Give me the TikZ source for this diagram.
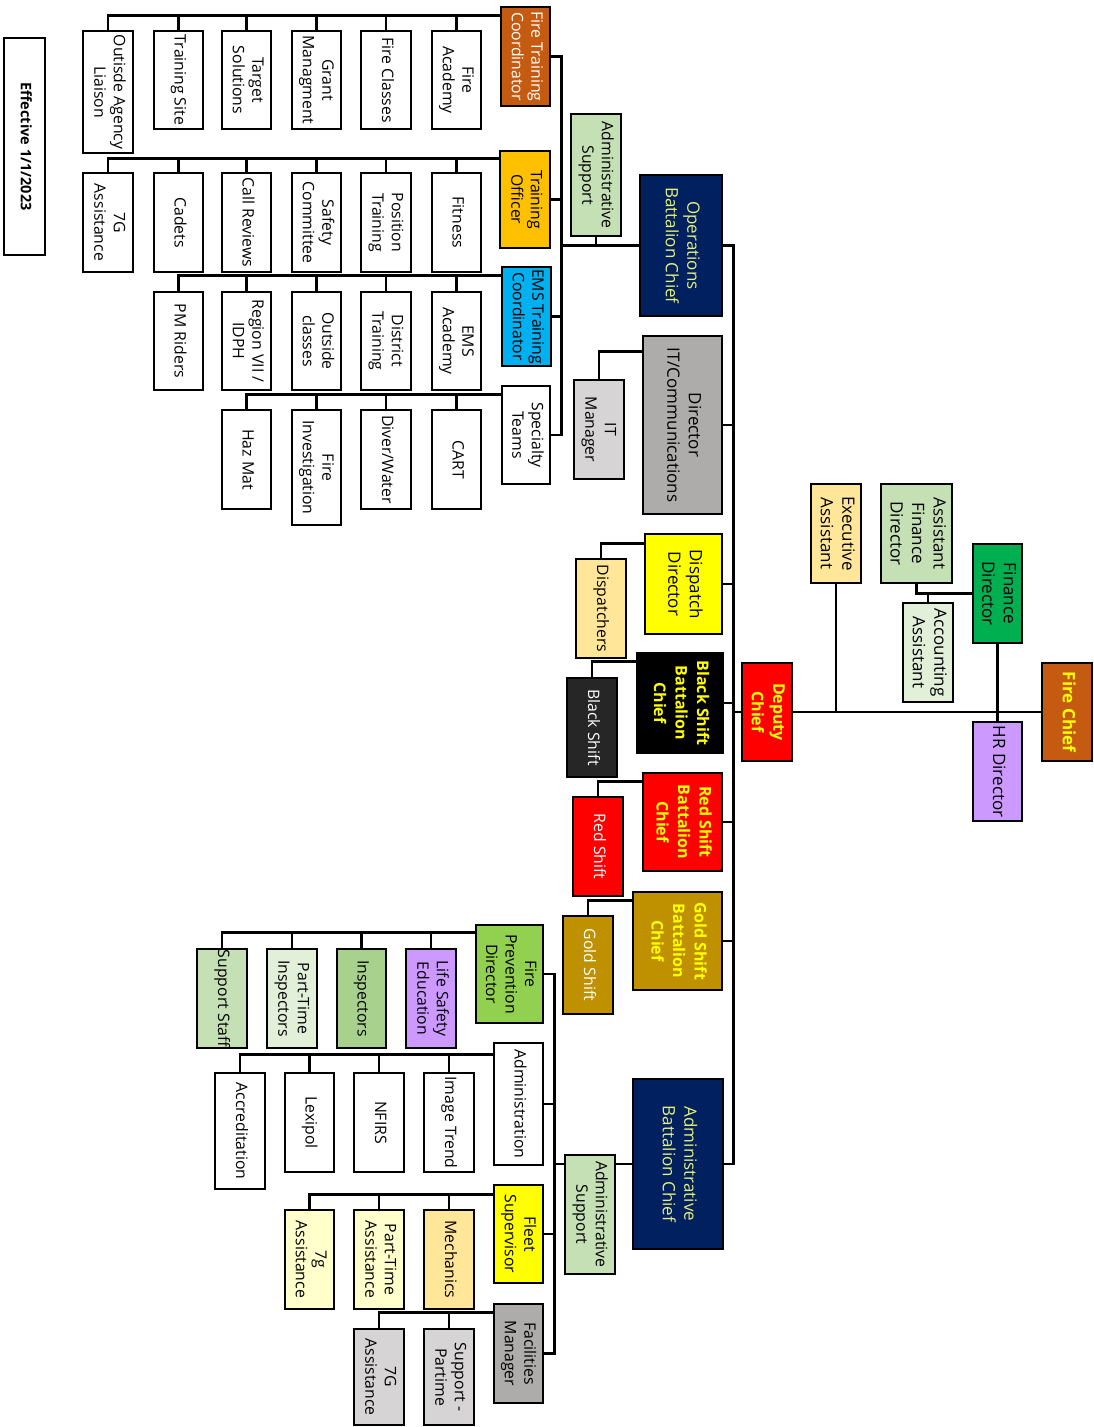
\documentclass[tikz,border=0pt]{standalone}
\usepackage{fontspec}
\setmainfont{Open Sans}
\usepackage{graphicx}
\usetikzlibrary{calc}
\pgfdeclarelayer{bg}
\pgfsetlayers{bg,main}
\definecolor{cBrown}{HTML}{C55A11}
\definecolor{cAmber}{HTML}{FFC000}
\definecolor{cBlue}{HTML}{00B0F0}
\definecolor{cLtGreen}{HTML}{C5E0B4}
\definecolor{cNavy}{HTML}{002060}
\definecolor{cPaleY}{HTML}{E6F07A}
\definecolor{cGray}{HTML}{AEABAB}
\definecolor{cLtGray}{HTML}{D6D4D4}
\definecolor{cCream}{HTML}{FFE699}
\definecolor{cDark}{HTML}{262626}
\definecolor{cGold}{HTML}{BF9000}
\definecolor{cPaleGreen}{HTML}{E2F0D9}
\definecolor{cGreen}{HTML}{00B050}
\definecolor{cLav}{HTML}{CC99FF}
\definecolor{cFPGreen}{HTML}{92D050}
\definecolor{cMidGreen}{HTML}{A9D18E}
\definecolor{cLtYellow}{HTML}{FFFFCC}
\definecolor{cYel}{HTML}{FFFF00}
\newcommand{\rt}[1]{\rotatebox{-90}{\begin{tabular}{@{}c@{}}#1\end{tabular}}}
\newcommand{\bx}[7]{\node[#6, minimum width={#4-#2}, minimum height={#5-#3}] (#1) at ({(#2+#4)/2},{(#3+#5)/2}) {\rt{#7}};}
\tikzset{
  box/.style={draw=black, line width=2.8pt, inner sep=0pt, fill=white, font=\fontsize{15.8}{19.5}\selectfont},
  big/.style={box, font=\fontsize{17}{21.5}\selectfont},
  boldbox/.style={box, font=\fontsize{16}{21.5}\selectfont\bfseries},
  conn/.style={draw=black, line width=2.4pt}
}
\begin{document}
\begin{tikzpicture}[x=1pt,y=-1pt]
\useasboundingbox (0,0) rectangle (1094,1427);
% header
\bx{eff}{4}{38}{45}{255}{box,font=\fontsize{14.5}{18}\selectfont\bfseries}{Effective 1/1/2023}
% row 1
\bx{oal}{83}{31}{133}{153}{box}{Outisde Agency\\Liaison}
\bx{tsite}{154}{31}{203}{129}{box}{Training Site}
\bx{tsol}{222}{31}{271}{129}{box}{Target\\Solutions}
\bx{grant}{292}{31}{341}{129}{box}{Grant\\Managment}
\bx{fcls}{361}{31}{411}{129}{box}{Fire Classes}
\bx{facad}{432}{31}{481}{129}{box}{Fire\\Academy}
\bx{ftc}{501}{7}{550}{106}{box,fill=cBrown,text=white}{Fire Training\\Coordinator}
% row 2
\bx{sevg}{83}{173}{133}{272}{box}{7G\\Assistance}
\bx{cadets}{154}{173}{203}{272}{box}{Cadets}
\bx{callr}{222}{173}{271}{272}{box}{Call Reviews}
\bx{safety}{292}{173}{341}{272}{box}{Safety\\Committee}
\bx{postr}{361}{173}{411}{272}{box}{Position\\Training}
\bx{fitness}{432}{173}{481}{272}{box}{Fitness}
\bx{to}{500}{151}{550}{248}{box,fill=cAmber}{Training\\Officer}
% row 3
\bx{pmr}{154}{292}{203}{390}{box}{PM Riders}
\bx{region}{222}{292}{271}{390}{box}{Region VII /\\IDPH}
\bx{outcls}{292}{292}{341}{390}{box}{Outside\\classes}
\bx{distr}{361}{292}{411}{390}{box}{District\\Training}
\bx{emsac}{432}{292}{481}{390}{box}{EMS\\Academy}
\bx{ems}{502}{267}{551}{366}{box,fill=cBlue}{EMS Training\\Coordinator}
% row 4
\bx{hazmat}{222}{410}{271}{509}{box}{Haz Mat}
\bx{fireinv}{292}{410}{341}{525}{box}{Fire\\Investigation}
\bx{diver}{361}{410}{411}{509}{box}{Diver/Water}
\bx{cart}{432}{410}{481}{509}{box}{CART}
\bx{spt}{502}{386}{550}{484}{box}{Specialty\\Teams}
% operations column
\bx{ast}{571}{114}{621}{236}{box,fill=cLtGreen}{Administrative\\Support}
\bx{ops}{640}{175}{722}{316}{big,fill=cNavy,text=cPaleY}{Operations\\Battalion Chief}
\bx{dirit}{643}{336}{722}{514}{big,fill=cGray}{Director\\IT/Communications}
\bx{itm}{574}{380}{624}{479}{box,fill=cLtGray}{IT\\Manager}
\bx{disp}{645}{534}{722}{634}{big,fill=cYel}{Dispatch\\Director}
\bx{dispr}{576}{559}{626}{658}{box,fill=cCream}{Dispatchers}
\bx{bsbc}{637}{653}{723}{753}{boldbox,fill=black,text=cYel}{Black Shift\\Battalion\\Chief}
\bx{bs}{567}{678}{617}{777}{box,fill=cDark,text=white}{Black Shift}
\bx{dep}{742}{663}{792}{761}{boldbox,fill=red,text=cYel}{Deputy\\Chief}
\bx{rsbc}{643}{773}{722}{871}{boldbox,fill=red,text=cYel}{Red Shift\\Battalion\\Chief}
\bx{rs}{573}{797}{623}{896}{box,fill=red,text=white}{Red Shift}
\bx{gsbc}{633}{892}{722}{990}{boldbox,fill=cGold,text=cYel}{Gold Shift\\Battalion\\Chief}
\bx{gs}{563}{916}{613}{1014}{box,fill=cGold,text=white}{Gold Shift}
\bx{abc}{633}{1079}{723}{1249}{big,fill=cNavy,text=cPaleY}{Administrative\\Battalion Chief}
% right side
\bx{ea}{811}{484}{861}{583}{big,fill=cCream}{Executive\\Assistant}
\bx{afd}{881}{484}{952}{583}{big,fill=cLtGreen}{Assistant\\Finance\\Director}
\bx{acc}{903}{603}{953}{702}{big,fill=cPaleGreen}{Accounting\\Assistant}
\bx{fd}{973}{544}{1022}{643}{big,fill=cGreen}{Finance\\Director}
\bx{hr}{973}{722}{1022}{821}{big,fill=cLav}{HR Director}
\bx{fc}{1042}{663}{1092}{761}{boldbox,font=\fontsize{17}{21}\selectfont\bfseries,fill=cBrown,text=cYel}{Fire Chief}
% lower
\bx{fpd}{476}{925}{543}{1023}{box,fill=cFPGreen}{Fire\\Prevention\\Director}
\bx{sstaff}{197}{949}{247}{1048}{box,fill=cLtGreen}{Support Staff}
\bx{pti}{267}{949}{317}{1048}{box,fill=cPaleGreen}{Part-Time\\Inspectors}
\bx{insp}{337}{949}{386}{1048}{box,fill=cMidGreen}{Inspectors}
\bx{lse}{406}{949}{456}{1048}{box,fill=cLav}{Life Safety\\Education}
\bx{adm}{494}{1043}{543}{1165}{box}{Administration}
\bx{accr}{215}{1073}{265}{1189}{box}{Accreditation}
\bx{lexi}{285}{1073}{334}{1172}{box}{Lexipol}
\bx{nfirs}{354}{1073}{404}{1172}{box}{NFIRS}
\bx{imgt}{424}{1073}{474}{1172}{box}{Image Trend}
\bx{asl}{565}{1155}{615}{1274}{box,fill=cLtGreen}{Administrative\\Support}
\bx{fleet}{494}{1185}{543}{1283}{box,fill=cYel}{Fleet\\Supervisor}
\bx{sevgb}{285}{1210}{334}{1309}{box,fill=cLtYellow}{7g\\Assistance}
\bx{pta}{354}{1210}{404}{1309}{box,fill=cLtYellow}{Part-Time\\Assistance}
\bx{mech}{424}{1210}{474}{1309}{box,fill=cCream}{Mechanics}
\bx{fac}{494}{1304}{543}{1403}{box,fill=cGray}{Facilities\\Manager}
\bx{sevgc}{354}{1329}{404}{1425}{box,fill=cLtGray}{7G\\Assistance}
\bx{spp}{424}{1329}{474}{1425}{box,fill=cLtGray}{Support -\\Partime}
% connectors
\begin{pgfonlayer}{bg}
\fill[white] (0,0) rectangle (1094,1427);
\coordinate (r1) at ([yshift=-10pt]ftc.north west);
\draw[conn] (r1) -| (oal.north);
\foreach \n in {tsite,tsol,grant,fcls,facad} \draw[conn] (\n.north) -- (\n.north |- r1);
\coordinate (r2) at ([yshift=-9pt]to.north west);
\draw[conn] (r2) -| (sevg.north);
\foreach \n in {cadets,callr,safety,postr,fitness} \draw[conn] (\n.north) -- (\n.north |- r2);
\coordinate (r3) at ([yshift=-10pt]ems.north west);
\draw[conn] (r3) -| (pmr.north);
\foreach \n in {region,outcls,distr,emsac} \draw[conn] (\n.north) -- (\n.north |- r3);
\coordinate (r4) at ([yshift=-10pt]spt.north west);
\draw[conn] (r4) -| (hazmat.north);
\foreach \n in {fireinv,diver,cart} \draw[conn] (\n.north) -- (\n.north |- r4);
\coordinate (rf) at ([yshift=-9pt]fpd.north west);
\draw[conn] (rf) -| (sstaff.north);
\foreach \n in {pti,insp,lse} \draw[conn] (\n.north) -- (\n.north |- rf);
\coordinate (ra) at ([yshift=-13pt]adm.north west);
\draw[conn] (ra) -| (accr.north);
\foreach \n in {lexi,nfirs,imgt} \draw[conn] (\n.north) -- (\n.north |- ra);
\coordinate (rl) at ([yshift=-11pt]fleet.north west);
\draw[conn] (rl) -| (sevgb.north);
\foreach \n in {pta,mech} \draw[conn] (\n.north) -- (\n.north |- rl);
\coordinate (rc) at ([yshift=-10pt]fac.north west);
\draw[conn] (rc) -| (sevgc.north);
\draw[conn] (spp.north) -- (spp.north |- rc);
% side subordinates
\draw[conn] ([yshift=-17pt]dirit.north west) -| (itm.north);
\draw[conn] ([yshift=-11pt]disp.north west) -| (dispr.north);
\draw[conn] ([yshift=-10pt]bsbc.north west) -| (bs.north);
\draw[conn] ([yshift=-10pt]rsbc.north west) -| (rs.north);
\draw[conn] ([yshift=-10pt]gsbc.north west) -| (gs.north);
% spine
\draw[conn] (ops.east) -- ++(10,0) coordinate (sp) |- (abc.east);
\foreach \n in {dirit,disp,bsbc,rsbc,gsbc} \draw[conn] (\n.east) -- (\n.east -| sp);
\draw[conn] (dep.west) -- (dep.west -| sp);
\draw[conn] (dep.east) -- (fc.west);
\draw[conn] (ea.south) -- (ea.south |- dep.east);
\draw[conn] (fd.south) -- (hr.north);
\draw[conn] (fd.west) -| (afd.south);
\draw[conn] (acc.north) -- (acc.north |- fd.west);
% upper operations branch
\draw[conn] (ftc.east) -- ++(10,0) coordinate (uv) |- (spt.east);
\draw[conn] (to.east) -- (to.east -| uv);
\draw[conn] (ems.east) -- (ems.east -| uv);
\draw[conn] (ops.west) -- (ops.west -| uv);
\draw[conn] (ast.south) -- (ast.south |- ops.west);
% lower administrative branch
\draw[conn] (fpd.east) -- ++(10,0) coordinate (lv) |- (fac.east);
\draw[conn] (adm.east) -- (adm.east -| lv);
\draw[conn] (fleet.east) -- (fleet.east -| lv);
\draw[conn] (abc.west) -- (abc.west -| lv);
\end{pgfonlayer}
\end{tikzpicture}
\end{document}
